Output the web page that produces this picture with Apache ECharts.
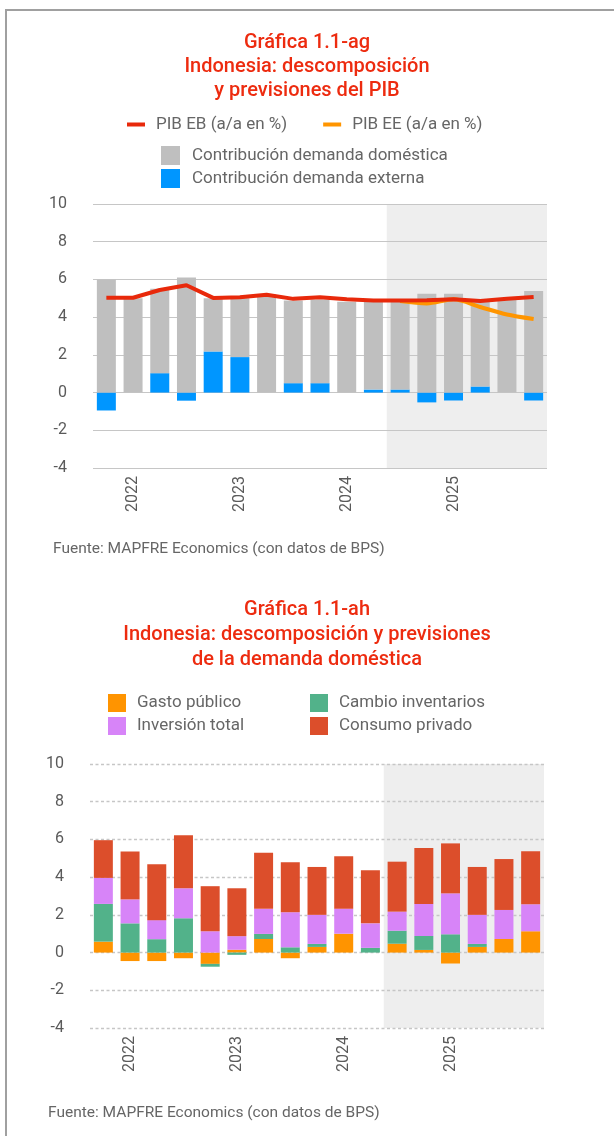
<!DOCTYPE html>
<html>
<head>
<meta charset="utf-8">
<script src="https://cdn.jsdelivr.net/npm/echarts@6/dist/echarts.min.js"></script>
<style>
  html, body { margin: 0; padding: 0; background: #fff; }
  #frame { position: absolute; left: 5px; top: 9px; right: 0; bottom: 0; border-left: 2px solid #a0a0a0; border-top: 2px solid #a0a0a0; }
  #main { position: absolute; left: 0; top: 0; width: 614px; height: 1136px; }
</style>
</head>
<body>
<div id="frame"></div>
<div id="main"></div>
<script>
// trimestres 4T21 .. 4T25, previsiones desde 3T24
const quarters = ['4T21', '1T22', '2T22', '3T22', '4T22', '1T23', '2T23', '3T23', '4T23', '1T24', '2T24', '3T24', '4T24', '1T25', '2T25', '3T25', '4T25']
const forecastFrom = 11
const yMin = -4
const yMax = 10
const yStep = 2

// Gráfica 1.1-ag
const pibEB = [5.03, 5.03, 5.44, 5.69, 5.02, 5.05, 5.19, 4.97, 5.05, 4.95, 4.88, 4.88, 4.90, 4.95, 4.86, 4.98, 5.07]
const pibEE = [null, null, null, null, null, null, null, null, null, null, null, 4.86, 4.73, 4.95, 4.54, 4.14, 3.90]
const demDomestica = [6.00, 5.00, 4.47, 6.10, 2.82, 3.12, 5.20, 4.38, 4.43, 4.81, 4.64, 4.65, 5.24, 5.24, 4.53, 4.93, 5.39]
const demExterna = [-0.95, 0.00, 1.03, -0.43, 2.18, 1.88, 0.00, 0.50, 0.50, 0.00, 0.16, 0.16, -0.52, -0.42, 0.32, 0.00, -0.42]

// Gráfica 1.1-ah
const gastoPublico = [0.58, -0.45, -0.45, -0.30, -0.60, 0.15, 0.72, -0.30, 0.30, 1.00, 0.00, 0.47, 0.14, -0.58, 0.30, 0.72, 1.13]
const cambioInventarios = [2.00, 1.55, 0.71, 1.82, -0.15, -0.12, 0.27, 0.28, 0.16, 0.00, 0.25, 0.69, 0.74, 0.97, 0.16, 0.00, 0.00]
const inversionTotal = [1.38, 1.27, 1.01, 1.59, 1.13, 0.72, 1.33, 1.86, 1.54, 1.33, 1.30, 1.01, 1.70, 2.17, 1.54, 1.54, 1.43]
const consumoPrivado = [2.00, 2.54, 2.97, 2.81, 2.39, 2.54, 2.97, 2.65, 2.54, 2.78, 2.81, 2.65, 2.97, 2.65, 2.54, 2.70, 2.81]

const red = '#ED2B0F'
const textGray = '#666666'
const axisGray = '#5a5a5a'

// solo se rotula el año en el primer trimestre
const yearLabel = (v) => v.startsWith('1T') ? '20' + v.slice(2) : ''

const catAxis = (gridIndex) => ({
  gridIndex,
  type: 'category',
  data: quarters,
  axisLine: { show: false },
  axisTick: { show: false },
  axisLabel: {
    interval: 0, rotate: 90, margin: 8, fontSize: 16, color: axisGray,
    width: 80, overflow: 'none', formatter: yearLabel
  }
})

// eje oculto para sombrear el periodo de previsión
const shadeAxis = (gridIndex) => ({
  gridIndex,
  type: 'value',
  min: -0.5,
  max: quarters.length - 0.5,
  show: false
})

const valAxis = (gridIndex, dashed) => ({
  gridIndex,
  type: 'value',
  min: yMin,
  max: yMax,
  interval: yStep,
  z: 1.5,
  axisLine: { show: false },
  axisTick: { show: false },
  axisLabel: { fontSize: 16, color: axisGray, margin: 26 },
  splitLine: { lineStyle: { color: '#c6c6c6', width: dashed ? 1.3 : 1.2, type: dashed ? [3, 2.5] : 'solid' } }
})

const shade = (xAxisIndex, yAxisIndex) => ({
  name: 'shade' + xAxisIndex,
  type: 'line',
  xAxisIndex,
  yAxisIndex,
  data: [],
  silent: true,
  markArea: {
    silent: true,
    z: 1,
    itemStyle: { color: '#eeeeee' },
    data: [[{ xAxis: forecastFrom - 0.5, yAxis: yMin }, { xAxis: quarters.length - 0.5, yAxis: yMax }]]
  }
})

const bar = (name, data, color, xAxisIndex, stack) => ({
  name, type: 'bar', data, stack, xAxisIndex, yAxisIndex: xAxisIndex,
  barWidth: 19,
  itemStyle: { color }
})

const titleText = (text, y, lineHeight) => ({
  type: 'text',
  x: 307,
  y,
  style: {
    text,
    align: 'center',
    verticalAlign: 'top',
    fill: red,
    fontFamily: 'Roboto',
    fontSize: 20,
    fontWeight: 500,
    lineHeight
  }
})

const sourceText = (x, y) => ({
  type: 'text',
  x,
  y,
  style: {
    text: 'Fuente: MAPFRE Economics (con datos de BPS)',
    fill: textGray,
    fontFamily: 'Roboto',
    fontSize: 15.5,
    verticalAlign: 'middle'
  }
})

const legendBase = {
  padding: 0,
  icon: 'rect',
  selectedMode: false,
  textStyle: { fontSize: 17, color: textGray, padding: [0, 0, 0, 6] }
}

const chart = echarts.init(document.getElementById('main'))
chart.setOption({
  animation: false,
  textStyle: { fontFamily: 'Roboto' },
  graphic: [
    titleText('Gráfica 1.1-ag\nIndonesia: descomposición\ny previsiones del PIB', 31, 24),
    titleText('Gráfica 1.1-ah\nIndonesia: descomposición y previsiones\nde la demanda doméstica', 597, 25),
    sourceText(53, 549),
    sourceText(48, 1113)
  ],
  legend: [
    Object.assign({}, legendBase, {
      data: ['PIB EB (a/a en %)', 'PIB EE (a/a en %)'],
      left: 127, top: 116,
      itemWidth: 18, itemHeight: 4, itemGap: 36
    }),
    Object.assign({}, legendBase, {
      data: ['Contribución demanda doméstica', 'Contribución demanda externa'],
      orient: 'vertical', left: 161, top: 146,
      itemWidth: 19, itemHeight: 19, itemGap: 4,
      textStyle: { fontSize: 17, color: textGray, padding: [0, 0, 0, 7] }
    }),
    Object.assign({}, legendBase, {
      data: ['Gasto público', 'Inversión total'],
      orient: 'vertical', left: 108, top: 694,
      itemWidth: 18, itemHeight: 18, itemGap: 5
    }),
    Object.assign({}, legendBase, {
      data: ['Cambio inventarios', 'Consumo privado'],
      orient: 'vertical', left: 310, top: 694,
      itemWidth: 18, itemHeight: 18, itemGap: 5
    })
  ],
  grid: [
    { left: 93, right: 67, top: 204, height: 264 },
    { left: 90, right: 70, top: 764, height: 264 }
  ],
  xAxis: [catAxis(0), catAxis(1), shadeAxis(0), shadeAxis(1)],
  yAxis: [valAxis(0, false), valAxis(1, true)],
  series: [
    shade(2, 0),
    shade(3, 1),
    bar('Contribución demanda externa', demExterna, '#0096ff', 0, 'pib'),
    bar('Contribución demanda doméstica', demDomestica, '#bfbfbf', 0, 'pib'),
    {
      name: 'PIB EE (a/a en %)', type: 'line', data: pibEE,
      xAxisIndex: 0, yAxisIndex: 0,
      symbol: 'none', smooth: 0.3,
      color: '#ff9500',
      lineStyle: { width: 4, color: '#ff9500' }
    },
    {
      name: 'PIB EB (a/a en %)', type: 'line', data: pibEB,
      xAxisIndex: 0, yAxisIndex: 0,
      symbol: 'none',
      color: '#e8290b',
      lineStyle: { width: 4, color: '#e8290b' }
    },
    bar('Gasto público', gastoPublico, '#ff9400', 1, 'dd'),
    bar('Cambio inventarios', cambioInventarios, '#52b28a', 1, 'dd'),
    bar('Inversión total', inversionTotal, '#d784f8', 1, 'dd'),
    bar('Consumo privado', consumoPrivado, '#dc4e2b', 1, 'dd')
  ]
})
</script>
</body>
</html>
